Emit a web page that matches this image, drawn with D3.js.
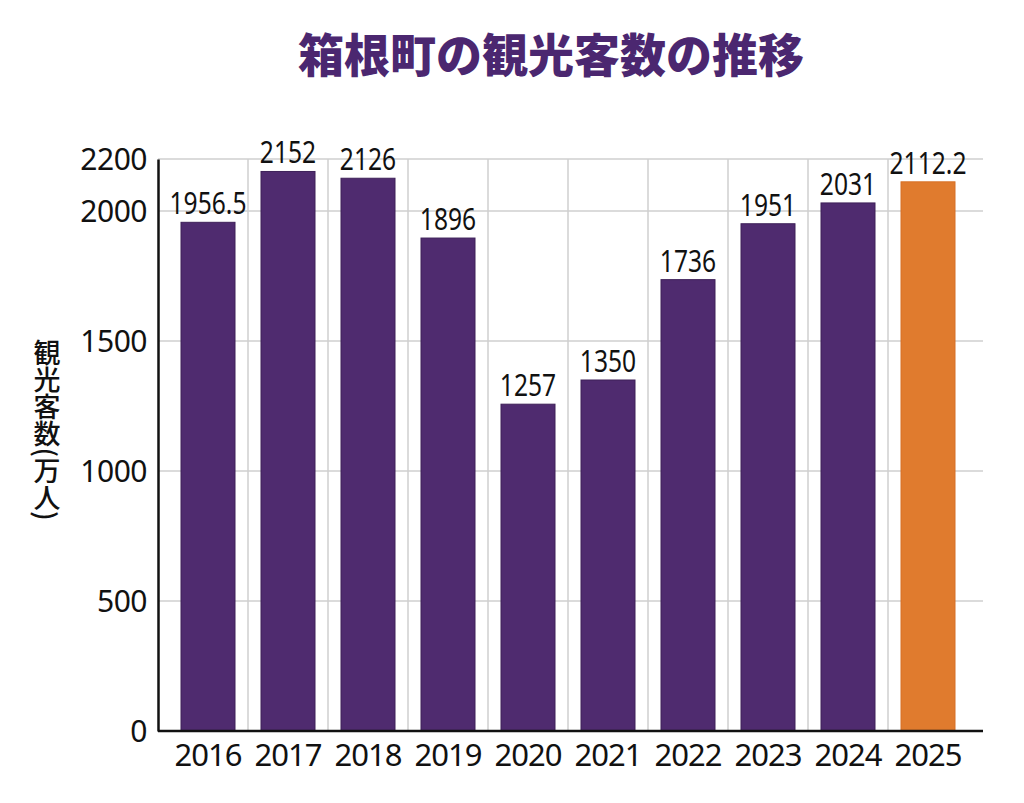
<!DOCTYPE html>
<html lang="ja">
<head>
  <meta charset="UTF-8">
  <title>箱根町の観光客数の推移</title>
  <script src="https://d3js.org/d3.v7.min.js"></script>
  <style>
    body { margin: 0; background: #fff; }
    svg { display: block; }
    text { font-family: "Noto Sans", "Noto Sans CJK JP", sans-serif; fill: #111; }
  </style>
</head>
<body>
  <svg id="chart" width="1024" height="803"></svg>
  <script>
    // データ
    const years = ["2016", "2017", "2018", "2019", "2020", "2021", "2022", "2023", "2024", "2025"];
    const visitors = [1956.5, 2152, 2126, 1896, 1257, 1350, 1736, 1951, 2031, 2112.2];
    const valueLabels = ["1956.5", "2152", "2126", "1896", "1257", "1350", "1736", "1951", "2031", "2112.2"];
    const yTicks = [0, 500, 1000, 1500, 2000, 2200];

    const svg = d3.select("#chart");
    const plotLeft = 158, plotRight = 983, plotTop = 159, plotBottom = 731;

    const x = d3.scaleBand()
      .domain(years)
      .range([168, 968])
      .paddingInner(0.325)
      .paddingOuter(0.1625);

    const y = d3.scaleLinear().domain([0, 2200]).range([plotBottom, plotTop]);

    // タイトル
    svg.append("text")
      .attr("x", 551)
      .attr("y", 72)
      .attr("text-anchor", "middle")
      .style("font-family", "'Noto Sans CJK JP', sans-serif")
      .style("font-weight", "900")
      .style("font-size", "46px")
      .style("fill", "#4b2770")
      .text("箱根町の観光客数の推移");

    // グリッド（横）
    svg.append("g")
      .selectAll("line")
      .data(yTicks.filter(d => d > 0))
      .join("line")
      .attr("x1", plotLeft)
      .attr("x2", plotRight)
      .attr("y1", d => y(d))
      .attr("y2", d => y(d))
      .attr("stroke", "#cfcfcf")
      .attr("stroke-width", 1.5);

    // グリッド（縦）
    const step = x.step();
    svg.append("g")
      .selectAll("line")
      .data(years.slice(0, -1))
      .join("line")
      .attr("x1", d => x(d) + x.bandwidth() + (step - x.bandwidth()) / 2)
      .attr("x2", d => x(d) + x.bandwidth() + (step - x.bandwidth()) / 2)
      .attr("y1", plotTop)
      .attr("y2", plotBottom)
      .attr("stroke", "#cfcfcf")
      .attr("stroke-width", 1.5);

    // 棒
    svg.append("g")
      .selectAll("rect")
      .data(years)
      .join("rect")
      .attr("x", d => x(d))
      .attr("width", x.bandwidth())
      .attr("y", (d, i) => y(visitors[i]))
      .attr("height", (d, i) => plotBottom - y(visitors[i]))
      .attr("fill", (d, i) => i === years.length - 1 ? "#e07b2e" : "#4f2b6f")
      .attr("stroke", (d, i) => i === years.length - 1 ? "#d67026" : "#3e2159")
      .attr("stroke-width", 1);

    // 値ラベル（縦長の字形に合わせて横方向を詰める）
    svg.append("g")
      .selectAll("text")
      .data(years)
      .join("text")
      .attr("transform", (d, i) =>
        `translate(${x(d) + x.bandwidth() / 2},${y(visitors[i]) - 8}) scale(0.82,1)`)
      .attr("text-anchor", "middle")
      .style("font-size", "30px")
      .text((d, i) => valueLabels[i]);

    // 軸
    const yAxis = svg.append("g")
      .attr("transform", `translate(${plotLeft},0)`)
      .call(d3.axisLeft(y).tickValues(yTicks).tickFormat(d3.format("d")).tickSize(0).tickPadding(11));
    yAxis.select(".domain").attr("stroke", "#111").attr("stroke-width", 2.5);
    yAxis.selectAll("text")
      .style("font-size", "30px")
      .style("letter-spacing", "-0.5px")
      .attr("dy", "0.36em");

    const xAxis = svg.append("g")
      .attr("transform", `translate(0,${plotBottom})`)
      .call(d3.axisBottom(x).tickSize(0).tickPadding(13));
    xAxis.select(".domain").remove();
    xAxis.selectAll("text")
      .style("font-size", "31px")
      .style("letter-spacing", "-1px");
    xAxis.append("line")
      .attr("x1", plotLeft)
      .attr("x2", plotRight)
      .attr("stroke", "#111")
      .attr("stroke-width", 2.5);

    // 縦軸タイトル
    svg.append("text")
      .attr("transform", "translate(47,430)")
      .attr("text-anchor", "middle")
      .style("writing-mode", "vertical-rl")
      .style("font-family", "'Noto Sans CJK JP', sans-serif")
      .style("font-size", "27px")
      .style("font-weight", "500")
      .text("観光客数(万人)");
  </script>
</body>
</html>
